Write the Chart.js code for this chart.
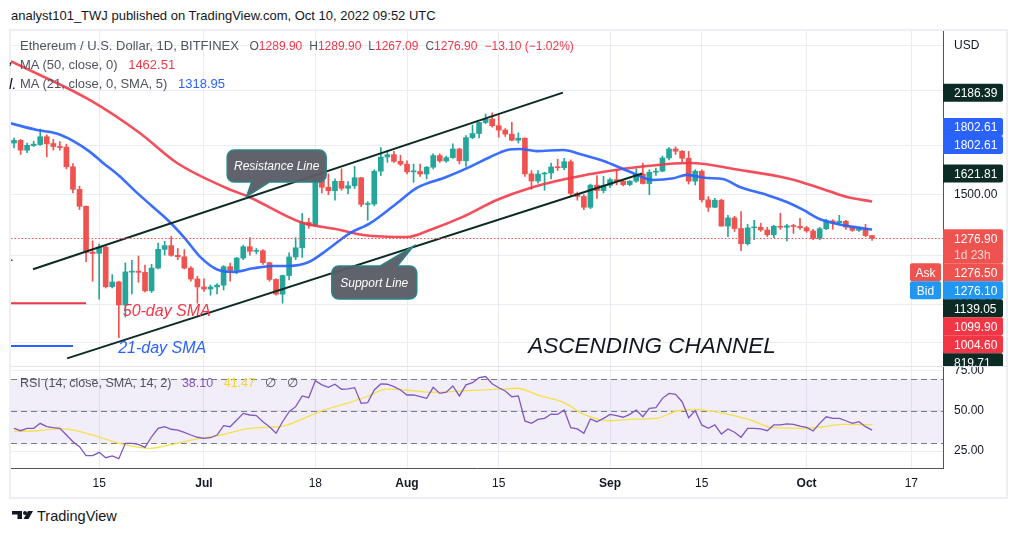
<!DOCTYPE html>
<html>
<head>
<meta charset="utf-8">
<script src="https://cdn.jsdelivr.net/npm/chart.js@4.4.0/dist/chart.umd.min.js"></script>
<style>
  body { margin: 0; background: #fff; width: 1018px; height: 536px; position: relative; overflow: hidden; font-family: "Liberation Sans", Arial, sans-serif; }
  .abs { position: absolute; white-space: nowrap; }
  #frame { position: absolute; left: 9px; top: 29px; width: 999px; height: 470px; border: 2px solid #eceff4; box-sizing: border-box; }
  #sep { position: absolute; left: 11px; top: 366px; width: 997px; height: 1px; background: #e0e3eb; }
  .leg { font-size: 13px; color: #50535e; }
  .leg span { margin-left: 7px; }
  .ohlc span { margin-left: 7px; font-size: 12px; }
  .red { color: #f23645; }
</style>
</head>
<body>
<div class="abs" style="left:11px;top:8px;font-size:13px;color:#131722">analyst101_TWJ published on TradingView.com, Oct 10, 2022 09:52 UTC</div>
<div id="frame"></div>
<canvas id="main" class="abs" width="997" height="335" style="left:11px;top:31px"></canvas>
<canvas id="rsi" class="abs" width="997" height="132" style="left:11px;top:366px"></canvas>
<div id="sep"></div>

<div class="abs leg ohlc" style="left:20px;top:38px">Ethereum / U.S. Dollar, 1D, BITFINEX
  <span>O<b class="red" style="font-weight:normal">1289.90</b></span><span>H<b class="red" style="font-weight:normal">1289.90</b></span><span>L<b class="red" style="font-weight:normal">1267.09</b></span><span>C<b class="red" style="font-weight:normal">1276.90</b></span><span class="red">−13.10 (−1.02%)</span></div>
<div class="abs leg" style="left:20px;top:57px">MA (50, close, 0) <span class="red">1462.51</span></div>
<div class="abs leg" style="left:20px;top:76px">MA (21, close, 0, SMA, 5) <span style="color:#2962ff">1318.95</span></div>
<div class="abs leg" style="left:20px;top:375px;font-size:12.5px">RSI (14, close, SMA, 14, 2) <span style="color:#7e57c2">38.10</span> <span style="color:#f2d733">41.47</span> <span>∅</span> <span>∅</span></div>
<div class="abs" style="left:9px;top:50px;font-size:15px;font-style:italic;color:#131722">,</div>
<div class="abs" style="left:9px;top:75px;font-size:15px;font-style:italic;color:#131722">l.</div>
<div class="abs" style="left:10px;top:249px;font-size:13px;color:#131722">.</div>

<svg class="abs" style="left:11px;top:509px" width="24" height="12" viewBox="0 0 24 12">
  <rect x="1" y="2" width="10" height="3.5" fill="#131722"/>
  <rect x="6.5" y="2" width="4.5" height="8" fill="#131722"/>
  <circle cx="14" cy="4" r="2" fill="#131722"/>
  <polygon points="17,2 22,2 17.5,10 12.5,10" fill="#131722"/>
</svg>
<div class="abs" style="left:37px;top:508px;font-size:14.5px;color:#131722">TradingView</div>

<script>
// daily candles, index 0 = Jun 2 2022 ... 131 = last bar
const opens = [1815,1833,1768,1798,1805,1858,1812,1792,1788,1663,1530,1437,1214,1208,1236,1068,1087,998,1127,1131,
  1126,1052,1144,1226,1243,1199,1193,1144,1099,1067,1059,1067,1074,1150,1134,1187,1238,1217,1220,1167,
  1097,1039,1113,1192,1233,1354,1340,1580,1542,1522,1576,1536,1550,1597,1447,1449,1636,1724,1739,1697,
  1679,1632,1634,1619,1660,1733,1699,1720,1776,1700,1852,1880,1958,1983,1935,1904,1876,1834,1848,1620,
  1578,1619,1625,1662,1657,1694,1507,1490,1432,1554,1523,1553,1586,1577,1557,1577,1619,1563,1630,1636,
  1718,1776,1761,1716,1577,1636,1472,1432,1470,1336,1377,1324,1252,1327,1330,1317,1294,1335,1330,1337,
  1334,1328,1312,1276,1323,1362,1352,1360,1331,1315,1324,1289.9];
const highs = [1848,1840,1815,1828,1911,1871,1840,1825,1808,1683,1548,1440,1265,1250,1242,1117,1090,1166,1177,1196,
  1157,1160,1255,1263,1287,1230,1225,1150,1110,1100,1075,1080,1155,1165,1190,1245,1280,1230,1225,1170,
  1100,1115,1210,1280,1400,1375,1590,1615,1620,1590,1650,1575,1665,1600,1462,1645,1785,1765,1760,1735,
  1700,1680,1680,1665,1745,1745,1730,1810,1780,1865,1940,1960,2020,2030,2010,1915,1960,1885,1850,1640,
  1640,1630,1685,1710,1715,1705,1515,1500,1560,1610,1605,1595,1645,1580,1580,1650,1685,1645,1655,1730,
  1785,1790,1765,1760,1645,1645,1490,1480,1475,1390,1385,1410,1345,1365,1350,1330,1340,1400,1345,1345,
  1375,1335,1320,1330,1370,1368,1390,1365,1335,1330,1345,1289.9];
const lows = [1782,1740,1751,1792,1800,1725,1768,1768,1650,1510,1420,1171,1090,1020,1063,1063,885,955,1040,1086,
  1048,1045,1140,1200,1195,1180,1140,1090,1005,1050,1035,1040,1055,1090,1120,1180,1200,1205,1160,1090,
  1035,1005,1095,1180,1190,1325,1335,1510,1500,1470,1525,1505,1535,1435,1365,1440,1610,1690,1690,1670,
  1620,1570,1605,1590,1650,1690,1690,1715,1680,1665,1845,1850,1950,1925,1855,1860,1830,1815,1605,1530,
  1565,1525,1590,1640,1645,1495,1470,1420,1425,1480,1510,1540,1555,1550,1550,1570,1560,1500,1610,1632,
  1705,1740,1695,1560,1555,1460,1410,1430,1335,1285,1310,1220,1245,1270,1310,1285,1280,1320,1265,1300,
  1320,1305,1270,1270,1318,1320,1345,1320,1310,1310,1285,1267.09];
const closes = [1833,1768,1800,1808,1858,1810,1792,1785,1663,1530,1437,1212,1207,1236,1068,1087,998,1128,1131,1126,
  1052,1144,1226,1243,1199,1193,1144,1099,1067,1059,1067,1074,1150,1134,1187,1238,1217,1220,1167,1097,
  1039,1113,1192,1233,1354,1340,1580,1542,1522,1576,1536,1550,1597,1447,1449,1636,1724,1739,1697,1679,
  1632,1634,1619,1660,1733,1699,1720,1776,1700,1852,1880,1958,1983,1935,1904,1876,1834,1848,1620,1578,
  1619,1625,1662,1657,1694,1507,1490,1432,1554,1523,1553,1586,1577,1557,1577,1619,1563,1630,1636,1718,
  1776,1761,1716,1577,1636,1472,1432,1470,1336,1377,1324,1252,1327,1330,1317,1294,1335,1330,1337,1334,
  1328,1312,1276,1323,1362,1352,1360,1331,1315,1324,1290,1276.9];

// moving averages (day index, price)
const ma50Days = [-0.5, 11.6, 19.2, 24.9, 32.5, 35.8, 43.7, 49.8, 53.3, 60, 63.5, 68.5, 73.7, 78.8, 84.9, 89, 94, 103.2, 110.8, 118.5, 123, 127.2, 131];
const ma50Vals = [2455, 2127, 1884, 1686, 1536, 1489, 1356, 1317, 1293, 1283, 1317, 1382, 1471, 1538, 1595, 1625, 1655, 1686, 1643, 1590, 1538, 1487, 1463];
const ma21Days = [-0.5, 3.5, 6.5, 9, 11.5, 13.5, 16, 18.5, 21, 23.5, 26, 28.5, 31, 33.5, 36.5, 39.5, 42, 45, 47.2, 49.8, 51.3, 54.4, 58.5, 61.5, 66,
  69.6, 72.7, 75.3, 77.3, 79.8, 83.8, 86.9, 89.9, 94, 97.6, 100.7, 102.7, 105.8, 108.2, 110.8, 115, 118, 120.5, 123, 125, 128.1, 131];
const ma21Vals = [1952, 1905, 1880, 1830, 1760, 1690, 1610, 1520, 1440, 1365, 1280, 1190, 1138, 1128, 1143, 1153, 1153, 1170, 1210, 1269, 1302, 1351, 1455, 1538, 1601,
  1662, 1724, 1769, 1776, 1762, 1769, 1737, 1700, 1633, 1584, 1594, 1614, 1595, 1590, 1543, 1498, 1460, 1418, 1371, 1351, 1332, 1319];

// channel drawn on the chart
const resistanceDays = [2.9, 83.8];
const resistancePrices = [1139.05, 2186.39];
const supportDays = [8.1, 95.9];
const supportPrices = [819.71, 1621.81];
const legendLineDays = [-0.5, 11];
const legendLine50 = 1004.6;
const blueLineDays = [-0.5, 9];
const legendLine21 = 858;

// RSI pane
const rsi = [39.2,37.7,39.2,39.2,42.3,40.2,39.6,39.2,35,30.8,27.7,22.1,22.1,24.2,20.8,21.9,20.2,29.8,29.8,29.2,
  27.3,33.9,39.2,40.2,38.6,38.1,36.7,35,33.6,32.9,33.3,35,40.8,40.2,44.4,48.5,47.5,47.1,43.3,40.2,
  36.1,43.3,49.6,52.7,59.4,58.3,68.9,66.3,64.8,66.7,63.6,63.8,64.6,54.8,55.2,63.1,66.9,66.7,65.2,63.1,
  60,60,58.9,57.9,64.8,61,61.7,65.6,59.4,66.3,67.7,70.8,71.5,67,64.5,62.5,58.9,59.4,43.8,42.3,
  44.8,45.4,48.1,47.9,50.6,39.6,38.8,36.1,45,43.3,45.4,47.9,47.1,46.1,47.9,50.6,46.4,51.7,52.1,57.9,
  61,60.4,55.8,45.8,50.2,41.3,39.2,41.3,35.6,38.8,36.7,33.6,39.2,39.2,38.8,37.7,41.3,41.3,41.9,41.7,
  40.6,39.8,37.5,42.3,46.4,45.4,45.4,43.9,42.3,43.3,40.2,38.1];
const rsiSmaDays = [0, 2.9, 7, 9.1, 13.1, 16.7, 20.8, 23.8, 28.4, 31.5, 35.5, 38.6, 40.6, 43.7, 46.7, 50.8, 53.8, 56.9, 59.9, 64, 69.1, 74.2, 76.7,
  80.3, 83.9, 86.9, 91, 94, 98.1, 101.2, 104.2, 108.3, 112.4, 115.9, 121, 123.6, 126.6, 131];
const rsiSmaVals = [37.1, 37.5, 38.8, 38.1, 33.6, 29.2, 26.7, 28.8, 32.9, 35, 38.8, 39.8, 40.2, 44.4, 49.6, 54.8, 58.9, 63.6, 63.1, 61.7, 62.7, 63.6, 64.2,
  59.6, 55.4, 48.1, 43.9, 44.8, 45.4, 50, 51, 48.5, 44.4, 39.6, 39.2, 40.2, 41.7, 41.5];
const rsiLevels = [70, 50, 30];

// axes
const tickDays = [13, 29, 46, 60, 74, 91, 105, 121, 137];
const tickLabels = ['15', 'Jul', '18', 'Aug', '15', 'Sep', '15', 'Oct', '17'];
const monthTicks = ['Jul', 'Aug', 'Sep', 'Oct'];
const priceGrid = [870, 1000, 1200, 1500, 1800, 2200, 2600];
const rsiGrid = [25, 50, 75];
const currency = 'USD';

// price scale tags
const lastPrice = 1276.9;
const askPrice = 1276.5;
const bidPrice = 1276.1;
const tagPrices = [2186.39, 1802.61, 1802.61, 1621.81, 1139.05, 1099.90, 1004.60, 819.71];
const tagColors = ['#0c2b24', '#2962ff', '#2962ff', '#0c2b24', '#0c2b24', '#f23645', '#f23645', '#0c2b24'];

// text drawings
const noteTexts = ['50-day SMA', '21-day SMA', 'ASCENDING CHANNEL'];
const noteDays = [16.6, 15.9, 78.5];
const notePrices = [973, 849, 857];
const noteColors = ['#f23645', '#2962ff', '#131722'];
const calloutTexts = ['Resistance Line', 'Support Line'];
const calloutDays = [40.1, 55.0];
const calloutPrices = [1668, 1085];
const calloutTipDays = [35.5, 60.96];
const calloutTipPrices = [1489, 1240];

const FONT = "'Liberation Sans', Arial, sans-serif";
const GRID = '#e9edf3';
const AXIS = '#50535e';
const X_MIN = -0.46, X_MAX = 141.83;
const noteStyle = ['italic 16px', 'italic 16px', 'italic 22.5px'];
const calloutSize = [[99, 32], [85, 33]];
const tailBase = [[5, 23], [-33, -16]];

Chart.defaults.font.family = FONT;

const days = closes.map((_, i) => i);
const candleColors = days.map(i => closes[i] >= opens[i] ? '#26a69a' : '#ef5350');
const pts = (xs, ys) => xs.map((x, i) => ({ x, y: ys[i] }));

function roundRect(ctx, x, y, w, h, r) {
  ctx.beginPath();
  ctx.moveTo(x, y);
  ctx.lineTo(x + w - r, y);
  ctx.quadraticCurveTo(x + w, y, x + w, y + r);
  ctx.lineTo(x + w, y + h - r);
  ctx.quadraticCurveTo(x + w, y + h, x + w - r, y + h);
  ctx.lineTo(x, y + h);
  ctx.closePath();
}

function drawCallout(ctx, cx, cy, w, h, tx, ty, base, text) {
  const x0 = cx - w / 2, y0 = cy - h / 2, r = 7;
  const below = ty > cy;
  ctx.beginPath();
  ctx.moveTo(x0 + r, y0);
  if (!below) { ctx.lineTo(tx + base[0], y0); ctx.lineTo(tx, ty); ctx.lineTo(tx + base[1], y0); }
  ctx.lineTo(x0 + w - r, y0);
  ctx.arcTo(x0 + w, y0, x0 + w, y0 + r, r);
  ctx.lineTo(x0 + w, y0 + h - r);
  ctx.arcTo(x0 + w, y0 + h, x0 + w - r, y0 + h, r);
  if (below) { ctx.lineTo(tx + base[1], y0 + h); ctx.lineTo(tx, ty); ctx.lineTo(tx + base[0], y0 + h); }
  ctx.lineTo(x0 + r, y0 + h);
  ctx.arcTo(x0, y0 + h, x0, y0 + h - r, r);
  ctx.lineTo(x0, y0 + r);
  ctx.arcTo(x0, y0, x0 + r, y0, r);
  ctx.closePath();
  ctx.fillStyle = 'rgba(90,93,101,0.96)';
  ctx.fill();
  ctx.strokeStyle = '#2a8586';
  ctx.lineWidth = 1.5;
  ctx.stroke();
  ctx.fillStyle = '#ffffff';
  ctx.font = 'italic 12px ' + FONT;
  ctx.textAlign = 'center';
  ctx.textBaseline = 'middle';
  ctx.fillText(text, cx, cy + 1);
}

function placeTag(trueY, h, placed) {
  const fits = c => placed.every(b => c - h / 2 >= b.bottom - 0.01 || c + h / 2 <= b.top + 0.01);
  if (fits(trueY)) return trueY;
  let best = null;
  placed.forEach(b => {
    [b.top - h / 2, b.bottom + h / 2].forEach(c => {
      if (fits(c) && (best === null || Math.abs(c - trueY) < Math.abs(best - trueY) - 0.01)) best = c;
    });
  });
  return best === null ? trueY : best;
}

const mainDecor = {
  id: 'mainDecor',
  afterDatasetsDraw(chart) {
    const { ctx, chartArea: a, scales: { x, y } } = chart;
    ctx.save();
    // last price line
    const py = Math.round(y.getPixelForValue(lastPrice)) + 0.5;
    ctx.strokeStyle = '#ef5350';
    ctx.lineWidth = 1;
    ctx.setLineDash([1.5, 2]);
    ctx.beginPath(); ctx.moveTo(a.left, py); ctx.lineTo(a.right, py); ctx.stroke();
    ctx.setLineDash([]);
    // text drawings
    ctx.textAlign = 'left';
    ctx.textBaseline = 'middle';
    noteTexts.forEach((t, i) => {
      ctx.font = noteStyle[i] + ' ' + FONT;
      ctx.fillStyle = noteColors[i];
      ctx.fillText(t, x.getPixelForValue(noteDays[i]), y.getPixelForValue(notePrices[i]));
    });
    calloutTexts.forEach((t, i) => {
      drawCallout(ctx, x.getPixelForValue(calloutDays[i]), y.getPixelForValue(calloutPrices[i]),
        calloutSize[i][0], calloutSize[i][1],
        x.getPixelForValue(calloutTipDays[i]), y.getPixelForValue(calloutTipPrices[i]), tailBase[i], t);
    });
    ctx.restore();
  },
  afterDraw(chart) {
    const { ctx, chartArea: a, scales: { y } } = chart;
    const H = 18, W = 60, left = a.right;
    ctx.save();
    ctx.font = '12px ' + FONT;
    ctx.textBaseline = 'middle';
    const tag = (cy, h, color, text) => {
      ctx.fillStyle = color;
      roundRect(ctx, left, cy - H / 2, W, h, 2);
      ctx.fill();
      ctx.fillStyle = '#ffffff';
      ctx.textAlign = 'left';
      ctx.fillText(text, left + 11, cy + 1);
    };
    const placed = [];
    // current price, countdown, ask and bid stacked together
    const y0 = y.getPixelForValue(lastPrice);
    tag(y0, 34, '#ef5350', lastPrice.toFixed(2));
    ctx.fillStyle = 'rgba(255,255,255,0.75)';
    ctx.fillText('1d 23h', left + 11, y0 + 17);
    const yAsk = y0 + 34;
    const yBid = yAsk + H;
    tag(yAsk, H, '#ef5350', askPrice.toFixed(2));
    tag(yBid, H, '#2196f3', bidPrice.toFixed(2));
    [[yAsk, '#ef5350', 'Ask'], [yBid, '#2196f3', 'Bid']].forEach(([cy, c, t]) => {
      ctx.fillStyle = c;
      ctx.beginPath();
      ctx.roundRect(left - 33, cy - H / 2, 31, H, 2);
      ctx.fill();
      ctx.fillStyle = '#ffffff';
      ctx.textAlign = 'center';
      ctx.fillText(t, left - 17.5, cy + 1);
    });
    placed.push({ top: y0 - H / 2, bottom: yBid + H / 2 });
    tagPrices.forEach((p, i) => {
      const cy = placeTag(y.getPixelForValue(p), H, placed);
      placed.push({ top: cy - H / 2, bottom: cy + H / 2 });
      tag(cy, H, tagColors[i], p.toFixed(2));
    });
    ctx.restore();
  }
};

new Chart(document.getElementById('main'), {
  type: 'bar',
  data: {
    datasets: [
      { type: 'line', data: pts(resistanceDays, resistancePrices), borderColor: '#0c2b24', borderWidth: 2, pointRadius: 0, order: 0 },
      { type: 'line', data: pts(supportDays, supportPrices), borderColor: '#0c2b24', borderWidth: 2, pointRadius: 0, order: 0 },
      { type: 'line', data: pts(legendLineDays, [legendLine50, legendLine50]), borderColor: '#f23645', borderWidth: 2, pointRadius: 0, order: 0 },
      { type: 'line', data: pts(blueLineDays, [legendLine21, legendLine21]), borderColor: '#2962ff', borderWidth: 2, pointRadius: 0, order: 0 },
      { type: 'line', data: pts(ma21Days, ma21Vals), borderColor: 'rgba(41,98,255,0.92)', borderWidth: 2.6, pointRadius: 0, cubicInterpolationMode: 'monotone', order: 1 },
      { type: 'line', data: pts(ma50Days, ma50Vals), borderColor: 'rgba(242,54,69,0.88)', borderWidth: 2.6, pointRadius: 0, cubicInterpolationMode: 'monotone', order: 1 },
      { data: days.map(i => ({ x: i, y: [opens[i], closes[i]] })), backgroundColor: candleColors, barThickness: 5, grouped: false, minBarLength: 1, order: 2 },
      { data: days.map(i => ({ x: i, y: [lows[i], highs[i]] })), backgroundColor: candleColors, barThickness: 1, grouped: false, order: 3 }
    ]
  },
  options: {
    responsive: false,
    animation: false,
    events: [],
    layout: { padding: 0 },
    plugins: { legend: { display: false }, tooltip: { enabled: false } },
    scales: {
      x: {
        type: 'linear', min: X_MIN, max: X_MAX, offset: false,
        afterBuildTicks: s => { s.ticks = tickDays.map(v => ({ value: v })); },
        afterFit: s => { s.height = 0; s.paddingLeft = 0; s.paddingRight = 0; },
        ticks: { display: false },
        grid: { color: GRID, drawTicks: false, offset: false },
        border: { display: false }
      },
      y: {
        type: 'logarithmic', position: 'right', min: 797, max: 2745, bounds: 'data',
        afterBuildTicks: s => { s.ticks = priceGrid.map(v => ({ value: v })); },
        afterFit: s => { s.width = 65; s.paddingTop = 0; s.paddingBottom = 0; },
        ticks: {
          color: '#131722', font: { size: 12 }, padding: 11, autoSkip: false,
          callback: v => v === priceGrid[priceGrid.length - 1] ? currency : Number(v).toFixed(2)
        },
        grid: { color: GRID, drawTicks: false },
        border: { color: AXIS }
      }
    }
  },
  plugins: [mainDecor]
});

const rsiDecor = {
  id: 'rsiDecor',
  beforeDatasetsDraw(chart) {
    const { ctx, chartArea: a, scales: { y } } = chart;
    ctx.save();
    const top = y.getPixelForValue(rsiLevels[0]);
    const bot = y.getPixelForValue(rsiLevels[2]);
    ctx.fillStyle = 'rgba(126,87,194,0.1)';
    ctx.fillRect(a.left, top, a.right - a.left, bot - top);
    ctx.strokeStyle = '#787b86';
    ctx.lineWidth = 1;
    ctx.setLineDash([6, 4]);
    rsiLevels.forEach(v => {
      const yy = Math.round(y.getPixelForValue(v)) + 0.5;
      ctx.beginPath(); ctx.moveTo(a.left, yy); ctx.lineTo(a.right, yy); ctx.stroke();
    });
    ctx.restore();
  }
};

new Chart(document.getElementById('rsi'), {
  type: 'line',
  data: {
    datasets: [
      { data: days.map(i => ({ x: i, y: rsi[i] })), borderColor: '#7e57c2', borderWidth: 1.3, pointRadius: 0 },
      { data: pts(rsiSmaDays, rsiSmaVals), borderColor: '#f5e14a', borderWidth: 1.3, pointRadius: 0, cubicInterpolationMode: 'monotone' }
    ]
  },
  options: {
    responsive: false,
    animation: false,
    events: [],
    layout: { padding: 0 },
    plugins: { legend: { display: false }, tooltip: { enabled: false } },
    scales: {
      x: {
        type: 'linear', min: X_MIN, max: X_MAX,
        afterBuildTicks: s => { s.ticks = tickDays.map(v => ({ value: v })); },
        afterFit: s => { s.height = 30; s.paddingLeft = 0; s.paddingRight = 0; },
        ticks: {
          color: '#131722', padding: 8, autoSkip: false, maxRotation: 0,
          callback: v => tickLabels[tickDays.indexOf(v)],
          font: c => ({ size: 12, weight: c.tick && monthTicks.includes(tickLabels[tickDays.indexOf(c.tick.value)]) ? 'bold' : 'normal' })
        },
        grid: { color: GRID, drawTicks: false },
        border: { color: AXIS }
      },
      y: {
        type: 'linear', position: 'right', min: 14.4, max: 78.1,
        afterBuildTicks: s => { s.ticks = rsiGrid.map(v => ({ value: v })); },
        afterFit: s => { s.width = 65; s.paddingTop = 0; s.paddingBottom = 0; },
        ticks: { color: '#131722', font: { size: 12 }, padding: 11, callback: v => Number(v).toFixed(2) },
        grid: { color: GRID, drawTicks: false },
        border: { color: AXIS }
      }
    }
  },
  plugins: [rsiDecor]
});
</script>
</body>
</html>
